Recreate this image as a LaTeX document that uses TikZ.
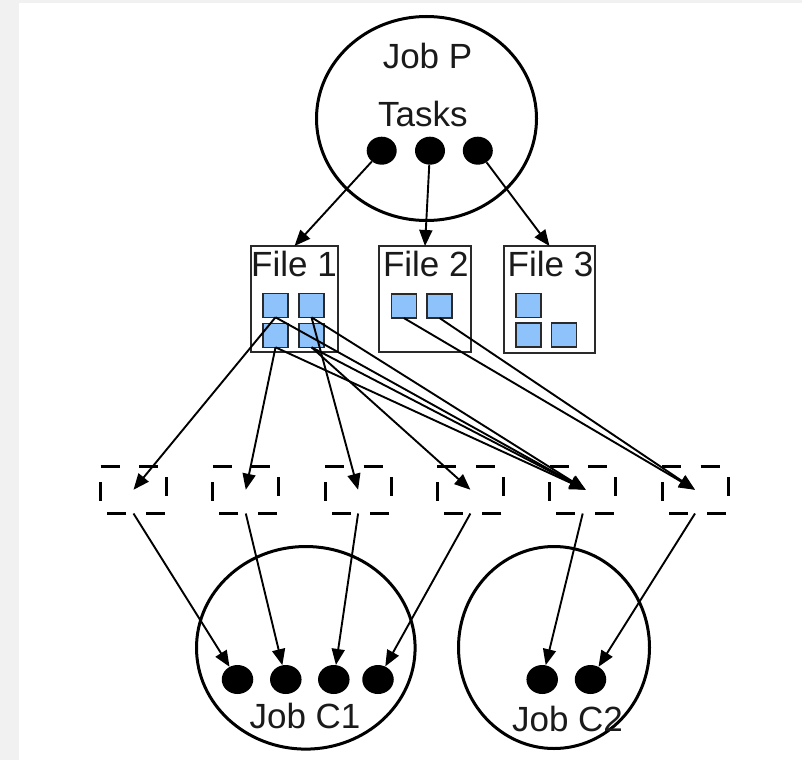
\documentclass[tikz,border=0pt]{standalone}
\usepackage{fontspec}
\setmainfont{Liberation Sans}
\usetikzlibrary{arrows.meta,shapes.geometric}
\definecolor{pagegray}{HTML}{F1F1F1}
\definecolor{chunkblue}{HTML}{8EC2FA}
\definecolor{framegray}{HTML}{2A2A2A}
\definecolor{inkgray}{HTML}{1A1A1A}

\begin{document}
\begin{tikzpicture}[x=1pt,y=-1pt,
  job/.style={draw,ellipse,line width=3pt,inner sep=0pt,outer sep=0pt},
  task/.style={fill,ellipse,minimum width=30pt,minimum height=28pt,inner sep=0pt},
  ctask/.style={task,minimum width=31.5pt,minimum height=29pt},
  filebox/.style={draw=framegray,line width=2pt,inner sep=0pt,outer sep=0pt},
  chunk/.style={draw=framegray,fill=chunkblue,line width=1.5pt,minimum width=25pt,minimum height=24pt,inner sep=0pt,outer sep=0pt},
  split/.style={minimum width=66pt,minimum height=47.5pt,inner sep=0pt,outer sep=0pt},
  splitline/.style={line width=3pt,dash pattern=on 19pt off 19.5pt},
  lbl/.style={font=\fontsize{35}{42}\selectfont,text=inkgray,inner sep=0pt,anchor=base},
  flow/.style={line width=1.9pt,-{Triangle[length=16pt,width=13pt]}}
]
% page
\useasboundingbox (0,0) rectangle (802,760);
\fill[pagegray] (0,0) rectangle (802,760);
\fill[white] (19,3) rectangle (802,760);

% jobs
\node[job,minimum width=220pt,minimum height=204pt] (jp) at (426.5,118.5) {};
\node[job,minimum width=218.6pt,minimum height=202.6pt] (jc1) at (305.8,647.8) {};
\node[job,minimum width=191pt,minimum height=202pt] (jc2) at (554,647.5) {};

\node[lbl] (jpname) at (427.5,68.3) {Job P};
\node[lbl] (jptasks) at (422.8,126.7) {Tasks};
\node[lbl] (jc1name) at (305,728) {Job C1};
\node[lbl] (jc2name) at (567.5,731.7) {Job C2};

% files
\node[filebox,minimum width=87pt,minimum height=105.5pt] (f1) at (294.5,298.75) {};
\node[filebox,minimum width=92pt,minimum height=106pt] (f2) at (425,299) {};
\node[filebox,minimum width=91pt,minimum height=107pt] (f3) at (549.5,299.5) {};
\node[lbl] (f1name) at (294,276.7) {File 1};
\node[lbl] (f2name) at (425.8,276.7) {File 2};
\node[lbl] (f3name) at (550.5,276.7) {File 3};

% file chunks
\node[chunk] (s1) at (275.5,305.3) {};
\node[chunk] (s2) at (311.5,305.3) {};
\node[chunk] (s3) at (275.5,335.3) {};
\node[chunk] (s4) at (311.5,335.3) {};
\node[chunk] (s5) at (403.8,306) {};
\node[chunk] (s6) at (439.5,306) {};
\node[chunk] (s7) at (528.3,305.5) {};
\node[chunk] (s8) at (528.3,335) {};
\node[chunk] (s9) at (564.2,335) {};

% input splits
\foreach \i in {1,...,6} {
  \node[split] (b\i) at ({133.5+112.3*(\i-1)},489.75) {};
  \draw[splitline] (b\i.north west) -- (b\i.north east) -- (b\i.south east) -- (b\i.south west) -- cycle;
}

% tasks
\node[task] (t1) at (381.7,150.7) {};
\node[task] (t2) at (430,150.7) {};
\node[task] (t3) at (477.8,150.7) {};
\node[ctask] (c1) at (237.5,679.5) {};
\node[ctask] (c2) at (285.8,679.5) {};
\node[ctask] (c3) at (333.8,679.5) {};
\node[ctask] (c4) at (378,679.5) {};
\node[ctask] (d1) at (542.2,679.5) {};
\node[ctask] (d2) at (590.5,679.5) {};

% producer tasks write files
\draw[flow] (t1) -- (f1.north);
\draw[flow] (t2) -- (f2.north);
\draw[flow] (t3) -- (f3.north);

% chunks to splits
\draw[flow] (s1.south) -- (b1.center);
\draw[flow] (s3.south) -- (b2.center);
\draw[flow] (s2.south) -- (b3.center);
\draw[flow] (s4.south) -- (b4.center);
\coordinate (b5in) at ([xshift=3pt]b5.center);
\draw[flow] (s1.south) -- (b5in);
\draw[flow] (s2.south) -- (b5in);
\draw[flow] (s3.south) -- (b5in);
\draw[flow] (s4.south) -- (b5in);
\draw[flow] (s5.south) -- (b6.center);
\draw[flow] (s6.south) -- (b6.center);

% splits to consumer tasks
\draw[flow] (b1.south) -- (c1);
\draw[flow] (b2.south) -- (c2);
\draw[flow] (b3.south) -- (c3);
\draw[flow] (b4.south) -- (c4);
\draw[flow] (b5.south) -- (d1);
\draw[flow] (b6.south) -- (d2);
\end{tikzpicture}
\end{document}
